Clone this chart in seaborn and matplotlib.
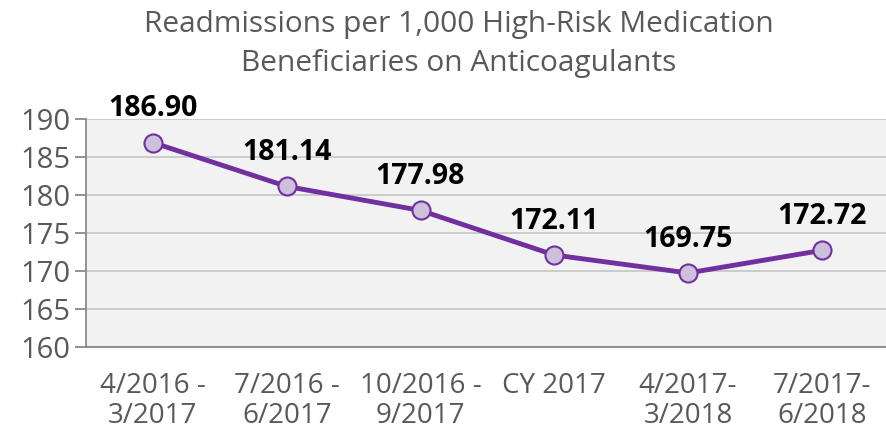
import numpy as np
import pandas as pd
import matplotlib.pyplot as plt
import seaborn as sns

periods = ['4/2016 -\n3/2017', '7/2016 -\n6/2017', '10/2016 -\n9/2017',
           'CY 2017', '4/2017-\n3/2018', '7/2017-\n6/2018']
rates = [186.90, 181.14, 177.98, 172.11, 169.75, 172.72]
yticks = [160, 165, 170, 175, 180, 185, 190]

df = pd.DataFrame({'period': periods, 'rate': rates, 'pos': np.arange(len(periods))})

sns.set_style('white')
plt.rcParams['font.family'] = ['Open Sans', 'DejaVu Sans']

fig = plt.figure(figsize=(8.87, 4.41), dpi=100)
ax = fig.add_axes([0.097, 0.213, 0.905, 0.517])
ax.set_facecolor('#F2F2F2')

sns.lineplot(x='pos', y='rate', data=df, ax=ax, color='#7030A0', linewidth=3.5,
             marker='o', markersize=13, markerfacecolor='#CCC0DA',
             markeredgecolor='#7030A0', markeredgewidth=1.5, zorder=3)

for x, y in zip(df['pos'], df['rate']):
    ax.annotate(f'{y:.2f}', (x, y), xytext=(0, 19), textcoords='offset points',
                ha='center', va='baseline', fontsize=20.5, fontweight='bold',
                color='black', annotation_clip=False)

ax.set_xlim(-0.5, len(periods) - 0.5)
ax.set_ylim(160, 190)
ax.set_yticks(yticks)
ax.set_yticklabels([str(t) for t in yticks])
ax.yaxis.grid(True, color='#C8C8C8', linewidth=1.3)
ax.set_axisbelow(True)

ax.set_xticks(df['pos'])
ax.set_xticklabels(periods, linespacing=1.1)
ax.set_xticks(np.arange(-0.5, len(periods)), minor=True)
ax.tick_params(axis='x', which='major', length=0, pad=18, labelsize=20, labelcolor='#595959')
ax.tick_params(axis='x', which='minor', length=8, width=1.3, color='#898989', direction='out')
ax.tick_params(axis='y', length=8, width=1.3, color='#898989', direction='out',
               labelsize=21, labelcolor='#595959', pad=3, left=True)

for side in ['top', 'right']:
    ax.spines[side].set_visible(False)
for side in ['left', 'bottom']:
    ax.spines[side].set_color('#898989')
    ax.spines[side].set_linewidth(1.3)

ax.set_xlabel('')
ax.set_ylabel('')
fig.suptitle('Readmissions per 1,000 High-Risk Medication\nBeneficiaries on Anticoagulants',
             x=0.517, y=0.978, fontsize=21.5, color='#595959', linespacing=1.45)

plt.savefig('out.png', dpi=100)
